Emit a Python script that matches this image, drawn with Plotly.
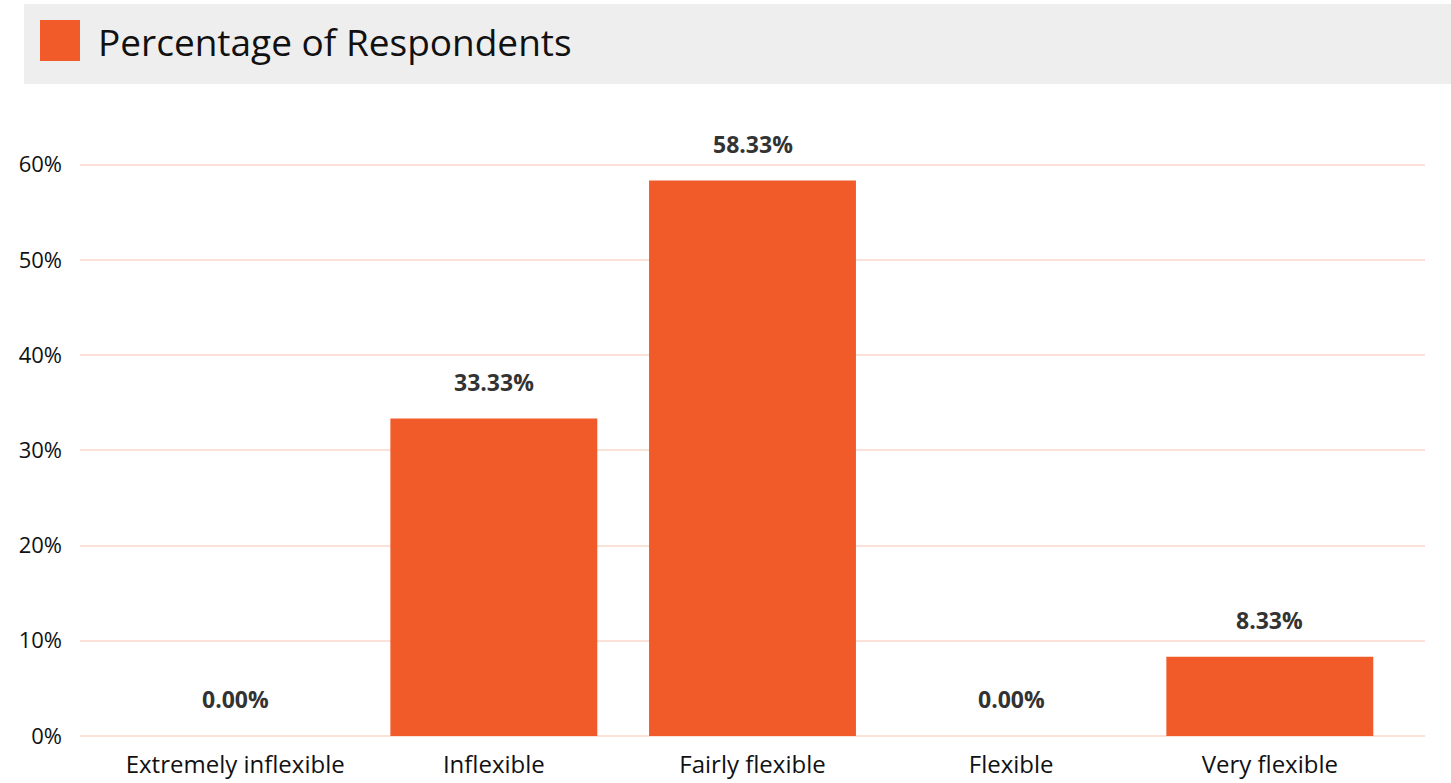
import plotly.graph_objects as go

categories = ["Extremely inflexible", "Inflexible", "Fairly flexible", "Flexible", "Very flexible"]
values = [0.00, 33.33, 58.33, 0.00, 8.33]
series_name = "Percentage of Respondents"
y_ticks = [0, 10, 20, 30, 40, 50, 60]
y_tick_labels = [f"{t}%" for t in y_ticks]

BAR = "#F15B29"
GRID = "#FCE1D8"
FONT = "Open Sans"

fig = go.Figure()
fig.add_trace(go.Bar(
    x=categories, y=values, name=series_name,
    marker=dict(color=BAR, line=dict(width=0)),
    showlegend=False, hoverinfo="skip",
))

# value labels above bars
for c, v in zip(categories, values):
    fig.add_annotation(
        x=c, y=v, xref="x", yref="y", text=f"<b>{v:.2f}%</b>",
        showarrow=False, yanchor="bottom", yshift=19,
        font=dict(family=FONT, size=23, color="#333333"),
    )

L, R, T, B = 80, 26, 117, 47
W, H = 1451, 783
pw = W - L - R
ph = H - T - B

def px(x):
    return (x - L) / pw

def py(y):
    return (H - B - y) / ph

# legend header: gray band, swatch, text
fig.add_shape(type="rect", xref="paper", yref="paper",
              x0=px(24), x1=px(1451), y0=py(84), y1=py(4),
              fillcolor="#EEEEEE", line=dict(width=0), layer="below")
fig.add_shape(type="rect", xref="paper", yref="paper",
              x0=px(40), x1=px(80), y0=py(61), y1=py(20),
              fillcolor=BAR, line=dict(width=0))
fig.add_annotation(x=px(96), y=py(41), xref="paper", yref="paper",
                   text=series_name, showarrow=False,
                   xanchor="left", yanchor="middle",
                   font=dict(family=FONT, size=37, color="#111111"))

fig.update_layout(
    width=W, height=H,
    margin=dict(l=L, r=R, t=T, b=B, pad=0, autoexpand=False),
    paper_bgcolor="white", plot_bgcolor="white",
    bargap=0.2,
    font=dict(family=FONT, color="#111111"),
)
fig.update_xaxes(
    range=[-0.6, len(categories) - 0.4],
    showgrid=False, showline=False, zeroline=False, automargin=False,
    ticks="", tickfont=dict(family=FONT, size=24, color="#111111"),
    ticklabelstandoff=12,
)
fig.update_yaxes(
    range=[0, 65], tickmode="array", tickvals=y_ticks, ticktext=y_tick_labels,
    showgrid=True, gridcolor=GRID, gridwidth=2, automargin=False,
    zeroline=True, zerolinecolor=GRID, zerolinewidth=2,
    showline=False, ticks="",
    tickfont=dict(family=FONT, size=22, color="#111111"),
    ticklabelstandoff=17,
)

fig.write_html("out.html")
